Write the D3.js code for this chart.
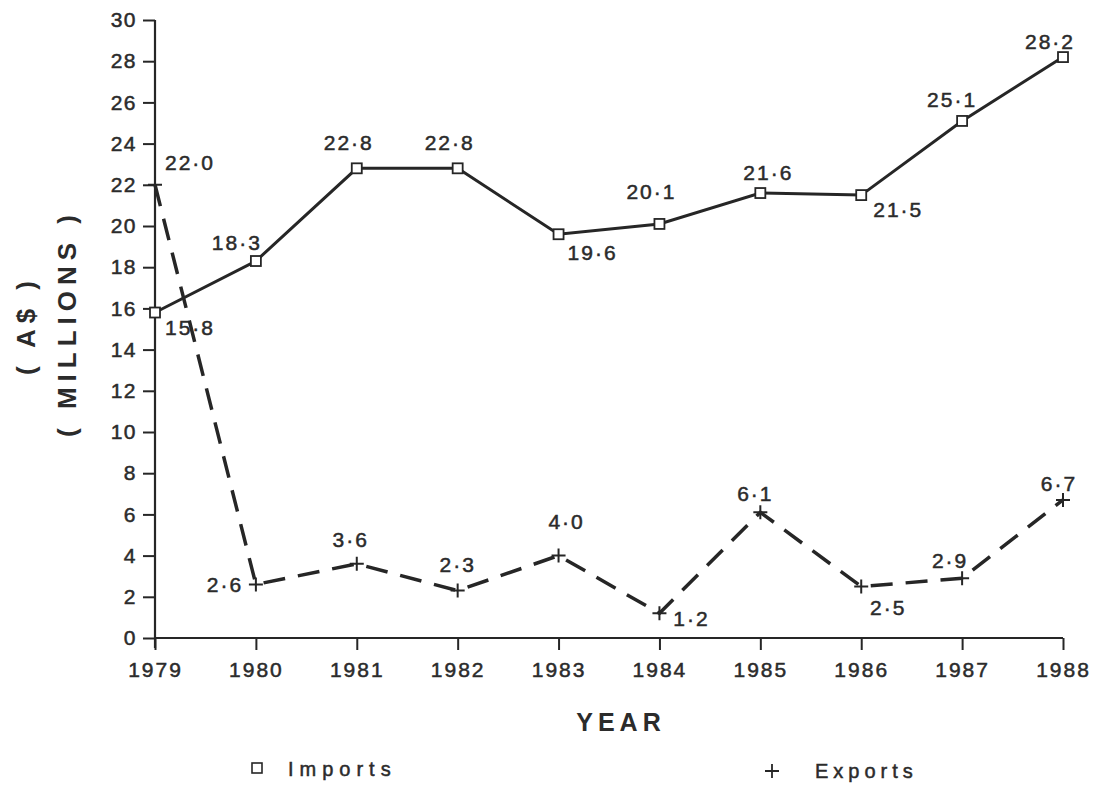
<!DOCTYPE html>
<html lang="en">
<head>
<meta charset="UTF-8">
<title>Imports and Exports</title>
<script src="https://cdn.jsdelivr.net/npm/d3@7"></script>
<style>
  body { margin: 0; background: #fff; }
  text { font-family: "Liberation Sans", Arial, sans-serif; fill: #2b2b2b; }
  .thin { stroke: #2b2b2b; stroke-width: 0.5px; }
</style>
</head>
<body>
<svg id="chart"></svg>
<script>
// data
var years = [1979, 1980, 1981, 1982, 1983, 1984, 1985, 1986, 1987, 1988];
var imports = [15.8, 18.3, 22.8, 22.8, 19.6, 20.1, 21.6, 21.5, 25.1, 28.2];
var exports = [22.0, 2.6, 3.6, 2.3, 4.0, 1.2, 6.1, 2.5, 2.9, 6.7];
var yTicks = [0, 2, 4, 6, 8, 10, 12, 14, 16, 18, 20, 22, 24, 26, 28, 30];

// where each value label sits relative to its marker
var importLabelOff = [[35, 15], [-19, -19], [-8, -26], [-8, -26], [34, 18], [-8, -32], [8, -21], [37, 14], [-10, -21], [-13, -16]];
var exportLabelOff = [[35, -22], [-31, 0], [-6, -24], [0, -26], [8, -34], [32, 5], [-5, -19], [27, 21], [-12, -18], [-4, -16]];

var width = 1107, height = 785;
var svg = d3.select("#chart").attr("width", width).attr("height", height);

var x = d3.scalePoint().domain(years).range([155, 1063]);
var y = d3.scaleLinear().domain([0, 30]).range([638, 20]);

var ink = "#262626";
var fmt = function (v) { return v.toFixed(1).replace(".", "\u00b7"); };

// y axis
var yAxis = d3.axisLeft(y).tickValues(yTicks).tickSize(12).tickPadding(6).tickSizeOuter(0);
var gy = svg.append("g").attr("transform", "translate(155,0)").call(yAxis);
gy.select(".domain").remove();
gy.selectAll(".tick line").attr("stroke", ink).attr("stroke-width", 2);
gy.selectAll(".tick text").attr("class", "thin").style("font-size", "21px").style("letter-spacing", "1.5px").attr("fill", ink);
svg.append("line").attr("x1", 155).attr("x2", 155).attr("y1", y(30)).attr("y2", y(0) + 10)
  .attr("stroke", ink).attr("stroke-width", 2.2);

// x axis
var xAxis = d3.axisBottom(x).tickSize(12).tickPadding(12).tickSizeOuter(0);
var gx = svg.append("g").attr("transform", "translate(0,638)").call(xAxis);
gx.select(".domain").remove();
gx.selectAll(".tick line").attr("stroke", ink).attr("stroke-width", 2);
gx.selectAll(".tick text").attr("class", "thin").style("font-size", "21px").style("letter-spacing", "2px").attr("fill", ink);
svg.append("line").attr("x1", 155).attr("x2", 1063).attr("y1", 638).attr("y2", 638)
  .attr("stroke", ink).attr("stroke-width", 2.2);

// axis titles
svg.append("text").attr("x", 621).attr("y", 722).attr("text-anchor", "middle")
  .attr("dominant-baseline", "central")
  .style("font-size", "25px").style("font-weight", "bold").style("letter-spacing", "5px")
  .attr("fill", "#3a3a3a").text("YEAR");
svg.append("text").attr("transform", "translate(26,325) rotate(-90)")
  .attr("text-anchor", "middle").attr("dominant-baseline", "central")
  .style("font-size", "26px").style("font-weight", "bold").style("letter-spacing", "6px")
  .attr("fill", "#3a3a3a").text("( A$ )");
svg.append("text").attr("transform", "translate(67,323) rotate(-90)")
  .attr("text-anchor", "middle").attr("dominant-baseline", "central")
  .style("font-size", "26px").style("font-weight", "bold").style("letter-spacing", "6px")
  .attr("fill", "#3a3a3a").text("( MILLIONS )");

// lines
var line = d3.line().x(function (d, i) { return x(years[i]); }).y(function (d) { return y(d); });

svg.append("path").datum(exports).attr("d", line).attr("fill", "none")
  .attr("stroke", ink).attr("stroke-width", 3.5).attr("stroke-dasharray", "22,13");
svg.append("path").datum(imports).attr("d", line).attr("fill", "none")
  .attr("stroke", ink).attr("stroke-width", 3);

// markers
svg.selectAll(".imp").data(imports).enter().append("rect").attr("class", "imp")
  .attr("x", function (d, i) { return x(years[i]) - 5; })
  .attr("y", function (d) { return y(d) - 5; })
  .attr("width", 10).attr("height", 10)
  .attr("fill", "#fff").attr("stroke", ink).attr("stroke-width", 1.8);

svg.selectAll(".exp").data(exports).enter().append("path").attr("class", "exp")
  .attr("d", function (d, i) {
    var cx = x(years[i]), cy = y(d);
    return "M" + (cx - 7) + "," + cy + "H" + (cx + 7) + "M" + cx + "," + (cy - 7) + "V" + (cy + 7);
  })
  .attr("stroke", ink).attr("stroke-width", 2);

// value labels
function labels(vals, off, cls) {
  svg.selectAll("." + cls).data(vals).enter().append("text").attr("class", cls + " thin")
    .attr("x", function (d, i) { return x(years[i]) + off[i][0]; })
    .attr("y", function (d, i) { return y(d) + off[i][1]; })
    .attr("text-anchor", "middle").attr("dominant-baseline", "central")
    .style("font-size", "21px").style("letter-spacing", "2px")
    .text(fmt);
}
labels(imports, importLabelOff, "limp");
labels(exports, exportLabelOff, "lexp");

// legend
svg.append("rect").attr("x", 252).attr("y", 763).attr("width", 10).attr("height", 10)
  .attr("fill", "#fff").attr("stroke", ink).attr("stroke-width", 1.6);
svg.append("text").attr("class", "thin").attr("x", 288).attr("y", 769).attr("dominant-baseline", "central")
  .style("font-size", "20px").style("letter-spacing", "6px").text("Imports");
svg.append("path").attr("d", "M765,771H779M772,764V778").attr("stroke", ink).attr("stroke-width", 1.8);
svg.append("text").attr("class", "thin").attr("x", 815).attr("y", 771).attr("dominant-baseline", "central")
  .style("font-size", "20px").style("letter-spacing", "5px").text("Exports");
</script>
</body>
</html>
